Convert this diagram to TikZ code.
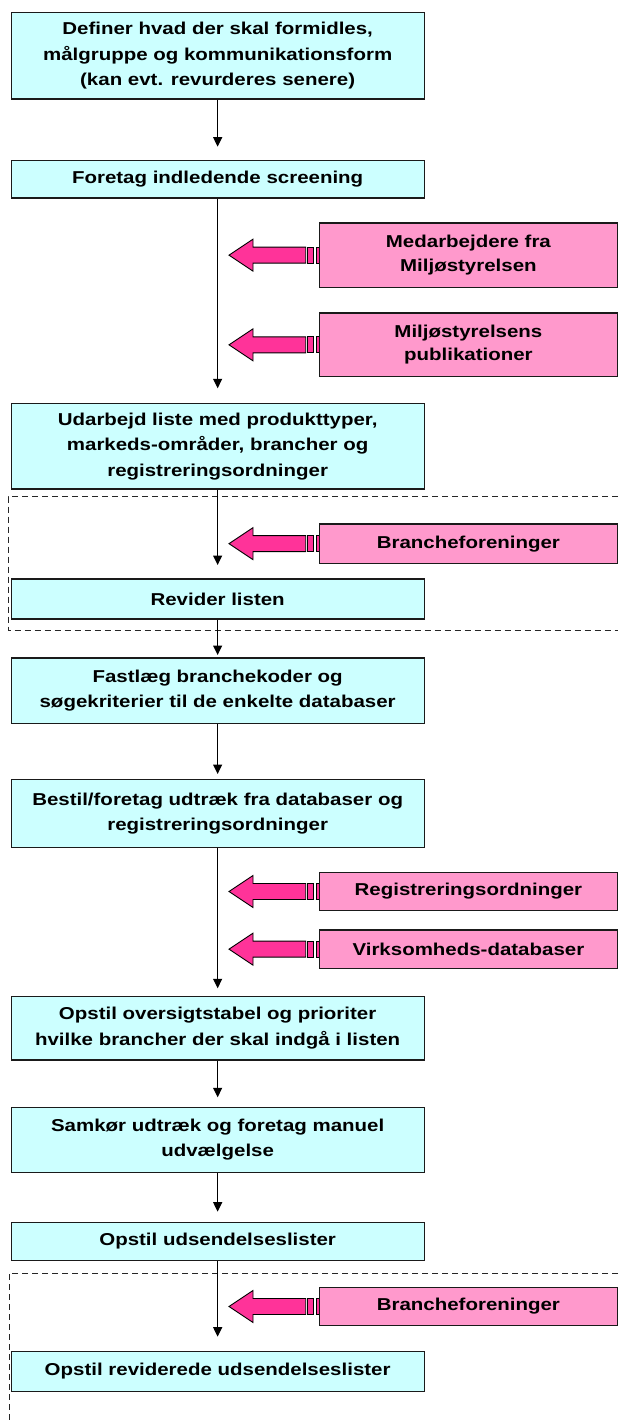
\documentclass[tikz,border=0pt]{standalone}
\usepackage{fontspec}
\setmainfont[FakeStretch=1.19]{Liberation Sans}
\usetikzlibrary{arrows.meta,backgrounds}
\definecolor{cyanfill}{HTML}{CCFFFF}
\definecolor{pinkfill}{HTML}{FF99CC}
\definecolor{arrowpink}{HTML}{FF3399}
\definecolor{edgecol}{HTML}{1A1A1A}
\begin{document}
\begin{tikzpicture}[x=1pt,y=-1pt,
  cbox/.style={draw=edgecol, line width=1.3pt, fill=cyanfill, minimum width=413pt, inner sep=0pt,
    anchor=north west, align=center, font=\fontsize{17.2}{25.3}\selectfont\bfseries},
  pbox/.style={draw=edgecol, line width=1.3pt, fill=pinkfill, minimum width=297.5pt, inner sep=0pt,
    anchor=north west, align=center, font=\fontsize{17.2}{23.4}\selectfont\bfseries},
  conn/.style={draw=black, line width=1.1pt, -{Triangle[width=9pt,length=9.5pt]}},
  pa/.style={draw=black, line width=0.9pt, fill=arrowpink},
  region/.style={draw=black!85, line width=0.8pt, dash pattern=on 6pt off 4pt},
  pinkarrow/.pic={
    \path[pa] (0,0) -- (24,-16) -- (24,-8) -- (76.7,-8) -- (76.7,8) -- (24,8) -- (24,16) -- cycle;
    \path[pa] (78.8,-8) rectangle (84.8,8);
    \path[pa] (87.8,-8) rectangle (90.5,8);
  }
]
\useasboundingbox (0,0) rectangle (618,1423);

% process boxes
\node[cbox, minimum height=86.3pt] (b1) at (10.5,12) {Definer hvad der skal formidles,\\målgruppe og kommunikationsform\\(kan evt. revurderes senere)};
\node[cbox, minimum height=37.5pt] (b2) at (10.5,160) {Foretag indledende screening};
\node[cbox, minimum height=85.3pt] (b3) at (10.5,403) {Udarbejd liste med produkttyper,\\markeds-områder, brancher og\\registreringsordninger};
\node[cbox, minimum height=40pt] (b4) at (10.5,578.3) {Revider listen};
\node[cbox, minimum height=65.4pt] (b5) at (10.5,657.3) {Fastlæg branchekoder og\\søgekriterier til de enkelte databaser};
\node[cbox, minimum height=67.7pt] (b6) at (10.5,779) {Bestil/foretag udtræk fra databaser og\\registreringsordninger};
\node[cbox, minimum height=63.6pt] (b7) at (10.5,995.7) {Opstil oversigtstabel og prioriter\\hvilke brancher der skal indgå i listen};
\node[cbox, minimum height=65pt] (b8) at (10.5,1106.7) {Samkør udtræk og foretag manuel\\udvælgelse};
\node[cbox, minimum height=38.3pt] (b9) at (10.5,1221.7) {Opstil udsendelseslister};
\node[cbox, minimum height=39.7pt] (b10) at (10.5,1351) {Opstil reviderede udsendelseslister};

% source boxes
\node[pbox, minimum height=64.4pt] (p1) at (319,222.3) {Medarbejdere fra\\Miljøstyrelsen};
\node[pbox, minimum height=63.7pt] (p2) at (319,312.3) {Miljøstyrelsens\\publikationer};
\node[pbox, minimum height=39.4pt] (p3) at (319,523.3) {Brancheforeninger};
\node[pbox, minimum height=38.3pt] (p4) at (319,871.7) {Registreringsordninger};
\node[pbox, minimum height=38.4pt] (p5) at (319,929.3) {Virksomheds-databaser};
\node[pbox, minimum height=38.3pt] (p6) at (319,1286.7) {Brancheforeninger};

\begin{scope}[on background layer]
  \draw[region] (618,496.7) -- (8,496.7) -- (8,630) -- (618,630);
  \draw[region] (618,1273.3) -- (9,1273.3) -- (9,1423);
  \foreach \p in {p1,p2,p3,p4,p5,p6}
    \pic at ([xshift=-90pt]\p.west) {pinkarrow};
\end{scope}

% flow connectors
\draw[conn, shorten >=13.3pt] (b1) -- (b2);
\draw[conn, shorten >=14.7pt] (b2) -- (b3);
\draw[conn, shorten >=13.3pt] (b3) -- (b4);
\draw[conn, shorten >=2.3pt] (b4) -- (b5);
\draw[conn, shorten >=5pt] (b5) -- (b6);
\draw[conn, shorten >=7.4pt] (b6) -- (b7);
\draw[conn, shorten >=9.4pt] (b7) -- (b8);
\draw[conn, shorten >=10pt] (b8) -- (b9);
\draw[conn, shorten >=14.3pt] (b9) -- (b10);
\end{tikzpicture}
\end{document}
